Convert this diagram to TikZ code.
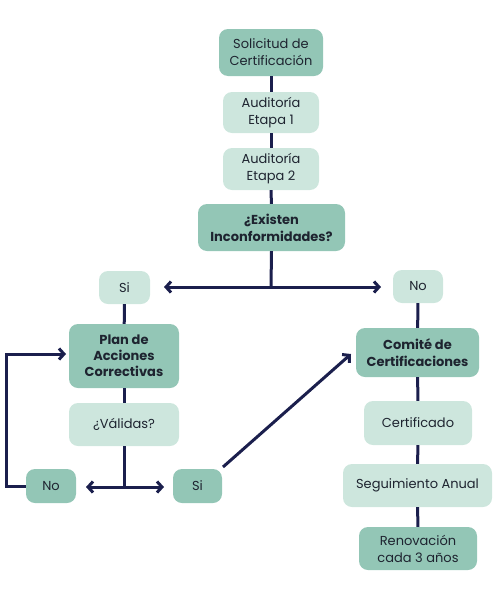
\documentclass[tikz,border=0pt]{standalone}
\usepackage{fontspec}
\setmainfont{Poppins}
\usetikzlibrary{arrows.meta}
\definecolor{dk}{HTML}{93C6B6}
\definecolor{lt}{HTML}{CDE6DD}
\definecolor{ln}{HTML}{1B1F4D}
\definecolor{tx}{HTML}{1E2430}
\begin{document}
\begin{tikzpicture}[x=1pt,y=-1pt,
  box/.style={rounded corners=9pt, inner sep=0pt, align=center, text=tx,
    font=\fontsize{13}{17}\selectfont},
  dkbox/.style={box, fill=dk},
  ltbox/.style={box, fill=lt},
  bfb/.style={font=\fontsize{13}{17}\selectfont\bfseries},
  conn/.style={draw=ln, line width=3pt},
  arr/.style={conn, -{Straight Barb[length=5pt,width=11pt,line width=3pt]}},
  darr/.style={conn, {Straight Barb[length=5pt,width=11pt,line width=3pt]}-{Straight Barb[length=5pt,width=11pt,line width=3pt]}}]
\useasboundingbox (0,0) rectangle (500,600);
\node[dkbox, minimum width=104pt, minimum height=47pt] (sol) at (271,52.5) {Solicitud de\\Certificación};
\node[ltbox, minimum width=96pt, minimum height=41pt] (a1) at (271,112.5) {Auditoría\\Etapa 1};
\node[ltbox, minimum width=96pt, minimum height=42pt] (a2) at (271,169) {Auditoría\\Etapa 2};
\node[dkbox, bfb, minimum width=147pt, minimum height=47pt] (inc) at (271.5,227.5) {¿Existen\\Inconformidades?};
\node[ltbox, minimum width=51pt, minimum height=33pt] (si1) at (124.5,287.5) {Si};
\node[ltbox, minimum width=50pt, minimum height=33pt] (no1) at (418,286.5) {No};
\node[dkbox, minimum width=110pt, minimum height=64pt, font=\fontsize{13}{16}\selectfont\bfseries] (plan) at (124,356) {Plan de\\Acciones\\Correctivas};
\node[ltbox, minimum width=110pt, minimum height=43pt] (val) at (124,424.5) {¿Válidas?};
\node[dkbox, minimum width=50pt, minimum height=34pt] (no2) at (51,486) {No};
\node[dkbox, minimum width=49pt, minimum height=34pt] (si2) at (197.5,486) {Si};
\node[dkbox, bfb, minimum width=123pt, minimum height=49pt] (com) at (417.5,352.5) {Comité de\\Certificaciones};
\node[ltbox, minimum width=108pt, minimum height=44pt] (cer) at (418,423) {Certificado};
\node[ltbox, minimum width=149pt, minimum height=43pt] (seg) at (417.5,485.5) {Seguimiento Anual};
\node[dkbox, minimum width=118pt, minimum height=43pt] (ren) at (418,548.5) {Renovación\\cada 3 años};
\coordinate (j1) at (271,287);
\coordinate (t1) at (164,287);
\coordinate (t2) at (381,287);
\coordinate (j2) at (124,487);
\coordinate (b1) at (86,487);
\coordinate (b2) at (164,487);
\coordinate (lf) at (6,354);
\coordinate (pl) at (66,354);
\coordinate (d1) at (223,467);
\coordinate (d2) at (351,354);
\draw[conn] (sol) -- (a1);
\draw[conn] (a1) -- (a2);
\draw[conn] (a2) -- (inc);
\draw[conn] (inc.south) -- (j1);
\draw[darr] (t1) -- (t2);
\draw[conn] (si1) -- (plan);
\draw[conn] (plan) -- (val);
\draw[conn] (val.south) -- (j2);
\draw[darr] (b1) -- (b2);
\draw[arr] (no2.west) -| (lf) -- (pl);
\draw[arr] (d1) -- (d2);
\draw[conn] (no1) -- (com);
\draw[conn] (com) -- (cer);
\draw[conn] (cer) -- (seg);
\draw[conn] (seg) -- (ren);
\end{tikzpicture}
\end{document}
